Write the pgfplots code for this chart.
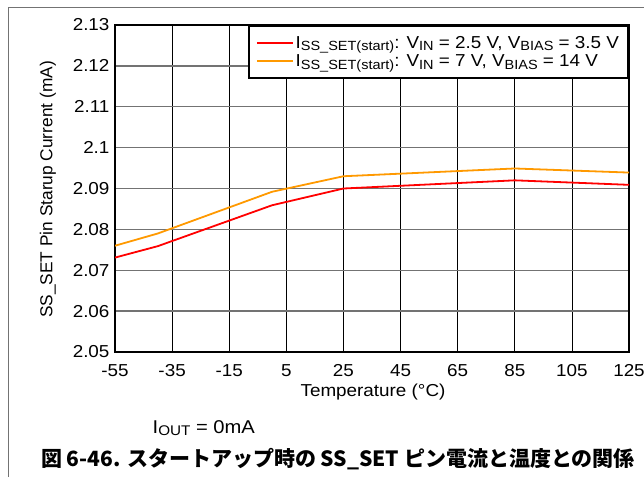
\documentclass[border=0pt]{standalone}
\usepackage{pgfplots}
\pgfplotsset{compat=1.18}
\usepackage{fontspec}
\setmainfont{Liberation Sans}[FakeStretch=1.09]
\newfontfamily\plainsans{Liberation Sans}
\newfontfamily\cjk{Noto Sans CJK JP}
\definecolor{tired}{RGB}{255,0,0}
\definecolor{tiorange}{RGB}{255,153,0}
\newcommand\sub[1]{\raisebox{-0.3ex}{\fontsize{13.3}{13.3}\selectfont #1}}

\pgfplotstableread{
T I
-55 2.0731
-40 2.0759
0 2.0859
25 2.0900
85 2.0920
125 2.0909
}\lowvin
\pgfplotstableread{
T I
-55 2.0760
-40 2.0790
0 2.0892
25 2.0930
85 2.0949
125 2.0939
}\highvin

\begin{document}
\begin{tikzpicture}[x=1pt,y=1pt]
\path[use as bounding box] (0,0) rectangle (644,-477);
\draw[black!55, line width=1pt] (8,-477) -- (8,-7) -- (644,-7);
\begin{axis}[
  at={(115pt,-352pt)}, anchor=south west,
  scale only axis, width=514pt, height=327pt,
  xmin=-55, xmax=125, ymin=2.05, ymax=2.13,
  xtick={-55,-35,...,125},
  ytick={2.05,2.06,2.07,2.08,2.09,2.1,2.11,2.12,2.13},
  major tick length=0pt,
  xmajorgrids, ymajorgrids,
  x grid style={black, line width=0.7pt},
  y grid style={black!55, line width=1.3pt},
  axis line style={black, line width=2.4pt},
  /pgf/number format/assume math mode=true,
  yticklabel style={xshift=-2pt, /pgf/number format/fixed, /pgf/number format/precision=2},
  xticklabel style={yshift=-9pt},
  tick label style={font=\fontsize{17.3}{20}\selectfont},
  legend style={at={(rel axis cs:1,1)}, anchor=north east, draw=black,
    line width=2pt, fill=white, font=\fontsize{17.3}{19}\selectfont,
    inner xsep=7pt, inner ysep=8pt, row sep=1pt},
  legend cell align=left,
  legend image post style={xscale=2.1},
]
\addplot[tired, line width=1.8pt] table[x=T, y=I] {\lowvin};
\addlegendentry{I\sub{SS\_SET(start)}: V\sub{IN} = 2.5 V, V\sub{BIAS} = 3.5 V}
\addplot[tiorange, line width=1.8pt] table[x=T, y=I] {\highvin};
\addlegendentry{I\sub{SS\_SET(start)}: V\sub{IN} = 7 V, V\sub{BIAS} = 14 V}
\end{axis}
\node[rotate=90, font=\plainsans\fontsize{17.3}{20}\selectfont] at (48,-189.5) {SS\_SET Pin Starup Current (mA)};
\node[font=\fontsize{17.3}{20}\selectfont] at (373,-392) {Temperature (°C)};
\node[anchor=base west, inner sep=0pt, font=\fontsize{18.5}{21}\selectfont] at (152.5,-433) {I\raisebox{-0.3ex}{\fontsize{14}{14}\selectfont OUT} = 0mA};
\node[font=\cjk\bfseries\fontsize{21}{24}\selectfont] at (338,-459) {図 6-46. スタートアップ時の SS\_SET ピン電流と温度との関係};
\end{tikzpicture}
\end{document}
